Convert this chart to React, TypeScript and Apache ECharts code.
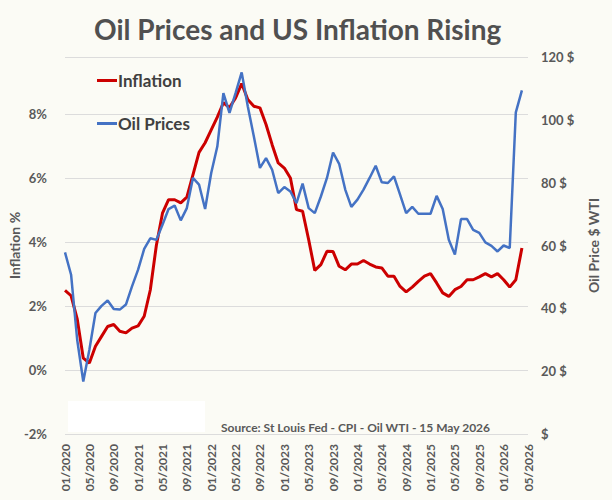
import React, { useEffect, useRef } from 'react';
import * as echarts from 'echarts';

const months = [
  '01/2020','02/2020','03/2020','04/2020','05/2020','06/2020','07/2020','08/2020','09/2020','10/2020','11/2020','12/2020',
  '01/2021','02/2021','03/2021','04/2021','05/2021','06/2021','07/2021','08/2021','09/2021','10/2021','11/2021','12/2021',
  '01/2022','02/2022','03/2022','04/2022','05/2022','06/2022','07/2022','08/2022','09/2022','10/2022','11/2022','12/2022',
  '01/2023','02/2023','03/2023','04/2023','05/2023','06/2023','07/2023','08/2023','09/2023','10/2023','11/2023','12/2023',
  '01/2024','02/2024','03/2024','04/2024','05/2024','06/2024','07/2024','08/2024','09/2024','10/2024','11/2024','12/2024',
  '01/2025','02/2025','03/2025','04/2025','05/2025','06/2025','07/2025','08/2025','09/2025','10/2025','11/2025','12/2025',
  '01/2026','02/2026','03/2026','04/2026','05/2026'
];

const inflation = [
  2.49, 2.32, 1.6, 0.37, 0.22, 0.74, 1.05, 1.36, 1.42, 1.21, 1.16, 1.31, 1.38, 1.68, 2.5, 3.9,
  4.9, 5.32, 5.32, 5.22, 5.4, 6.1, 6.8, 7.1, 7.5, 7.9, 8.35, 8.2, 8.5, 8.95,
  8.45, 8.24, 8.19, 7.67, 7.04, 6.47, 6.31, 6.0, 5.01, 4.96, 4.07, 3.11, 3.29, 3.71, 3.7, 3.24,
  3.13, 3.31, 3.31, 3.42, 3.31, 3.22, 3.19, 2.93, 2.93, 2.61, 2.44, 2.59, 2.77,
  2.93, 3.01, 2.72, 2.41, 2.3, 2.51, 2.61, 2.82, 2.82, 2.91, 3.01, 2.91, 3.01, 2.82, 2.59, 2.82, 3.81
];

const oilPrices = [
  57.8, 50.7, 30, 16.7, 26.8, 38.5, 40.8, 42.5, 39.8, 39.6, 41.2, 47.0, 52.3, 58.9, 62.3, 61.8,
  66.6, 71.6, 72.7, 68.0, 71.9, 81.5, 79.4, 71.6, 83.1, 91.5, 108.5, 102.2, 108.5, 115.1,
  104.3, 94.7, 84.7, 87.8, 84.1, 76.7, 78.6, 77.2, 73.5, 79.7, 71.9, 70.3, 75.6, 81.5,
  89.6, 86.0, 77.8, 72.3, 74.6, 77.8, 81.5, 85.4, 80.1, 79.9, 82.0, 76.2, 70.3, 72.3, 70.1, 70.1,
  70.1, 75.8, 71.6, 61.8, 57.1, 68.4, 68.4, 65.0, 64.0, 61.0, 59.9, 58.1, 60.0, 59.2, 102.4, 109.4
];

const titleText = 'Oil Prices and US Inflation Rising';
const sourceText = 'Source: St Louis Fed - CPI - Oil WTI - 15 May 2026';
const seriesNames = ['Inflation', 'Oil Prices'];
const leftAxisName = 'Inflation %';
const rightAxisName = 'Oil Price $ WTI';

const FONT = 'Lato';
const TEXT = '#595959';

export default function App() {
  const ref = useRef<HTMLDivElement>(null);
  useEffect(() => {
    if (!ref.current) return;
    const chart = echarts.init(ref.current, null, { renderer: 'svg' });
    chart.setOption({
      animation: false,
      backgroundColor: '#fbfbf5',
      textStyle: { fontFamily: FONT },
      title: {
        text: titleText,
        left: 89,
        top: 10,
        textStyle: { fontFamily: FONT, fontSize: 28, fontWeight: 'bold', color: '#505050' }
      },
      legend: {
        orient: 'vertical',
        left: 92,
        top: 67,
        itemGap: 26,
        itemWidth: 20,
        itemHeight: 3,
        icon: 'rect',
        textStyle: { fontFamily: FONT, fontSize: 17, fontWeight: 'bold', color: '#404040', padding: [0, 0, 0, -4] },
        data: seriesNames
      },
      grid: { left: 65, right: 84, top: 57, bottom: 66, outerBoundsMode: 'none', containLabel: false },
      xAxis: {
        type: 'category',
        data: months,
        boundaryGap: false,
        axisLine: { show: false },
        axisTick: { show: false },
        axisLabel: {
          interval: 3,
          rotate: 90,
          margin: 10,
          fontFamily: FONT,
          fontSize: 12,
          fontWeight: 'bold',
          color: TEXT
        },
        splitLine: { show: false }
      },
      yAxis: [
        {
          type: 'value',
          min: -2,
          max: 9.78,
          interval: 2,
          name: leftAxisName,
          nameLocation: 'middle',
          nameRotate: 90,
          nameGap: 44,
          nameMoveOverlap: false,
          nameTextStyle: { fontFamily: FONT, fontSize: 14, fontWeight: 'bold', color: TEXT },
          axisLine: { show: false },
          axisTick: { show: false },
          axisLabel: {
            showMaxLabel: false,
            margin: 18,
            fontFamily: FONT,
            fontSize: 13,
            fontWeight: 'bold',
            color: TEXT,
            formatter: (v: number) => `${v}%`
          },
          splitLine: { lineStyle: { color: '#dcdcdc', width: 1 } }
        },
        {
          type: 'value',
          min: 0,
          max: 120,
          interval: 20,
          position: 'right',
          name: rightAxisName,
          nameLocation: 'middle',
          nameRotate: 90,
          nameGap: 58,
          nameMoveOverlap: false,
          nameTextStyle: { fontFamily: FONT, fontSize: 14, fontWeight: 'bold', color: TEXT },
          axisLine: { show: false },
          axisTick: { show: false },
          axisLabel: {
            margin: 13,
            fontFamily: FONT,
            fontSize: 13,
            fontWeight: 'bold',
            color: TEXT,
            formatter: (v: number) => (v === 0 ? '$' : `${v} $`)
          },
          splitLine: { show: false }
        }
      ],
      graphic: [
        {
          type: 'rect',
          left: 68,
          top: 401,
          shape: { width: 137, height: 31 },
          style: { fill: '#ffffff' },
          silent: true
        },
        {
          type: 'text',
          left: 221,
          top: 421,
          style: {
            text: sourceText,
            fontFamily: FONT,
            fontSize: 12,
            fontWeight: 'bold',
            fill: TEXT
          },
          silent: true
        }
      ],
      series: [
        {
          name: seriesNames[0],
          type: 'line',
          yAxisIndex: 0,
          data: inflation,
          showSymbol: false,
          symbol: 'none',
          lineStyle: { color: '#cc0000', width: 3 },
          itemStyle: { color: '#cc0000' }
        },
        {
          name: seriesNames[1],
          type: 'line',
          yAxisIndex: 1,
          data: oilPrices,
          showSymbol: false,
          symbol: 'none',
          lineStyle: { color: '#4472c4', width: 2.5 },
          itemStyle: { color: '#4472c4' }
        }
      ]
    });
    return () => chart.dispose();
  }, []);
  return (
    <div
      ref={ref}
      style={{ position: 'fixed', left: 0, top: 0, width: 612, height: 500 }}
    />
  );
}
